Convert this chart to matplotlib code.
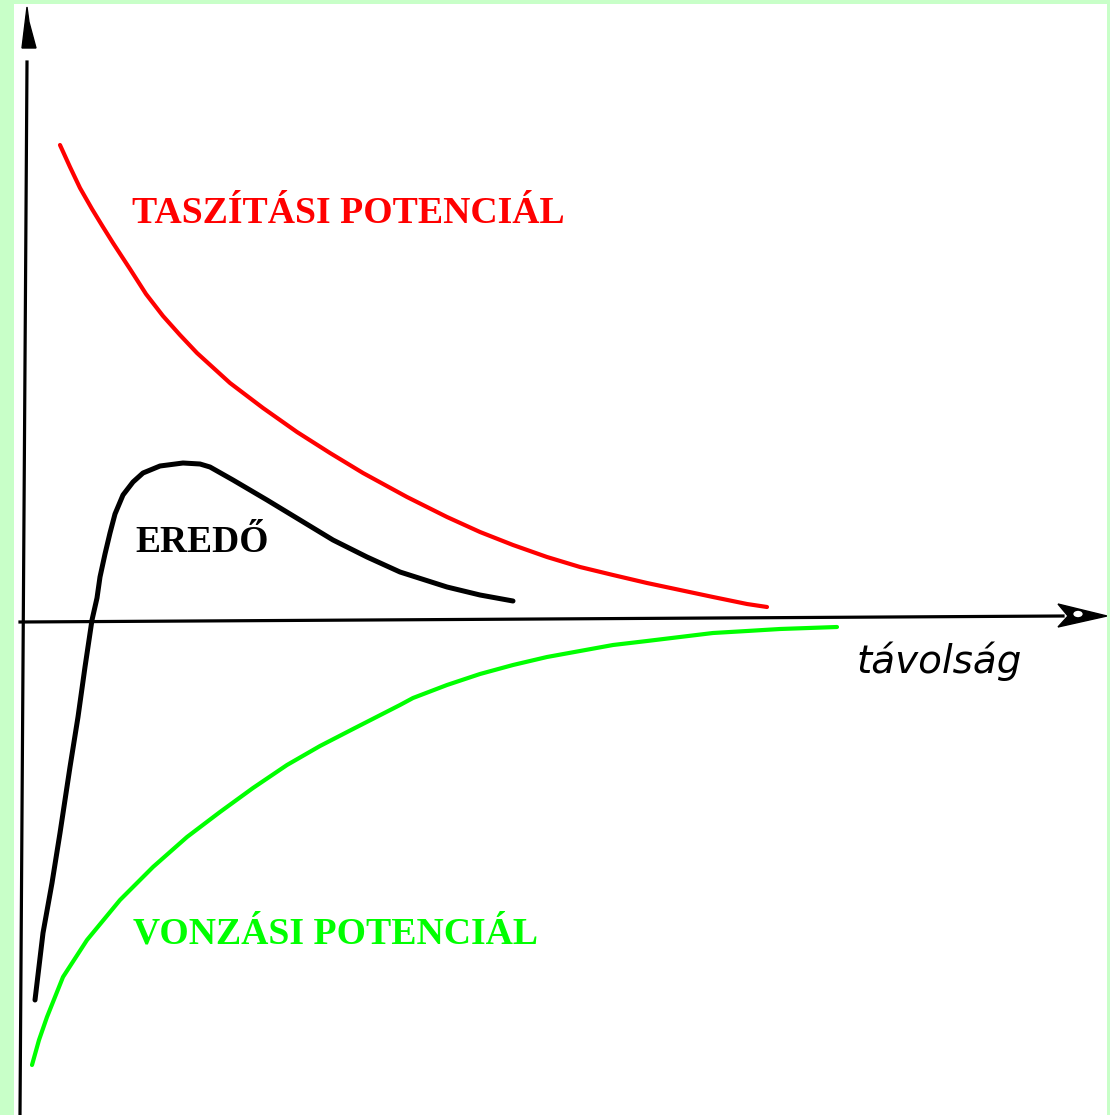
import matplotlib.pyplot as plt
from matplotlib.patches import Polygon, Ellipse

# distance (x) and potential (y), origin where the two axes cross
rep_x = [37, 42, 47, 57, 69, 80, 90, 107, 123, 140, 157, 174, 207, 240, 274,
         307, 340, 384, 424, 457, 490, 524, 557, 590, 624, 657, 690, 724, 744]
rep_y = [477, 466, 455, 434, 413, 395, 379, 353, 328, 306, 287, 269, 239, 214,
         190, 169, 149, 125, 105, 90, 77, 65, 55, 47, 39, 32, 25, 18, 15]

res_x = [12, 20, 29, 37, 47, 55, 62, 69, 74, 77, 82, 87, 92, 100, 110, 120,
         137, 160, 177, 187, 210, 244, 277, 310, 344, 377, 424, 457, 490]
res_y = [-378, -311, -261, -211, -145, -95, -45, 2, 24, 45, 68, 89, 108, 127,
         140, 149, 156, 159, 158, 155, 142, 122, 102, 82, 65, 50, 35, 27, 21]

att_x = [9, 16, 24, 40, 64, 97, 130, 164, 197, 230, 264, 297, 330, 377, 390,
         424, 457, 490, 524, 557, 590, 624, 657, 690, 724, 757, 814]
att_y = [-443, -418, -395, -355, -318, -278, -245, -215, -190, -166, -143, -124,
         -107, -83, -76, -63, -52, -43, -35, -29, -23, -19, -15, -11, -9, -7, -5]

label_rep = "TASZÍTÁSI POTENCIÁL"
label_att = "VONZÁSI POTENCIÁL"
label_res = "EREDŐ"
label_x = "távolság"

W, H = 1110, 1115
fig = plt.figure(figsize=(W / 100, H / 100), dpi=100, facecolor="#c8ffc8")
ax = fig.add_axes([14 / W, 0, (1107 - 14) / W, (1115 - 4) / H])
ax.set_facecolor("white")
ax.set_xlim(-9, 1084)
ax.set_ylim(-493, 618)
for s in ax.spines.values():
    s.set_visible(False)
ax.set_xticks([])
ax.set_yticks([])

# axes lines with arrows
ax.plot([4, -3], [560, -493], color="black", lw=2.3)
ax.plot([-3, 1040], [0, 6], color="black", lw=2.3)
ax.add_patch(Polygon([[4, 615], [-1, 574], [13, 574], [6, 600]], closed=True,
                     color="black"))
ax.add_patch(Polygon([[1035, 18], [1084, 6], [1035, -5], [1045, 6]], closed=True,
                     color="black"))
ax.add_patch(Ellipse((1055, 8), 11, 8, facecolor="white", edgecolor="black", lw=1.2))

# curves
ax.plot(rep_x, rep_y, color="#ff0000", lw=3, solid_capstyle="round",
        solid_joinstyle="round")
ax.plot(res_x, res_y, color="black", lw=3.6, solid_capstyle="round",
        solid_joinstyle="round")
ax.plot(att_x, att_y, color="#00ff00", lw=3, solid_capstyle="round",
        solid_joinstyle="round")

serif = ["Liberation Serif", "DejaVu Serif"]
ax.text(109, 399, label_rep, color="#ff0000", fontsize=27.2, fontweight="bold",
        family=serif, ha="left", va="baseline")
ax.text(110, -321, label_att, color="#00ff00", fontsize=27.2, fontweight="bold",
        family=serif, ha="left", va="baseline")
ax.text(112, 70, label_res, color="black", fontsize=27, fontweight="bold",
        family=serif, ha="left", va="baseline")
ax.text(834, -51, label_x, color="black", fontsize=28, style="italic",
        family=["DejaVu Sans"], ha="left", va="baseline")

fig.savefig("out.png", dpi=100, facecolor=fig.get_facecolor())
